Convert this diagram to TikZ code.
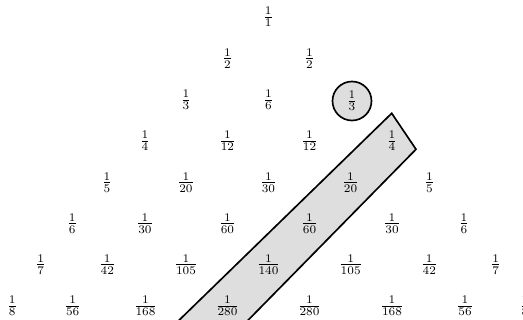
\documentclass[tikz,border=0pt]{standalone}
\begin{document}
\begin{tikzpicture}[x=0.6pt,y=-0.6pt,
  frac/.style={inner sep=1pt},
  circled/.style={frac,circle,draw,line width=1pt,fill=black!13,minimum size=23.4pt},
  stripe/.style={draw,line width=1pt,fill=black!13}]
\useasboundingbox (0,0) rectangle (523,320);
\clip (0,0) rectangle (523,320);
% diagonal strip (behind the numbers)
\coordinate (sTL) at (391.7,113.3);
\coordinate (sTR) at (416,149.3);
\coordinate (sBR) at (209,360);
\coordinate (sBL) at (138.2,360);
\draw[stripe] (sTL) -- (sTR) -- (sBR) -- (sBL) -- cycle;
% row 1
\node[frac] (r1a) at (268.3,17) {$\frac{1}{1}$};
% row 2
\node[frac] (r2a) at (227.5,58.5) {$\frac{1}{2}$};
\node[frac] (r2b) at (309.5,58.5) {$\frac{1}{2}$};
% row 3
\node[frac] (r3a) at (186,100) {$\frac{1}{3}$};
\node[frac] (r3b) at (268.5,100) {$\frac{1}{6}$};
\node[circled] (r3c) at (352,101) {$\frac{1}{3}$};
% row 4
\node[frac] (r4a) at (145,141) {$\frac{1}{4}$};
\node[frac] (r4b) at (227.5,141) {$\frac{1}{12}$};
\node[frac] (r4c) at (309.5,141) {$\frac{1}{12}$};
\node[frac] (r4d) at (392,141) {$\frac{1}{4}$};
% row 5
\node[frac] (r5a) at (107,182.5) {$\frac{1}{5}$};
\node[frac] (r5b) at (186,182.5) {$\frac{1}{20}$};
\node[frac] (r5c) at (268.5,182.5) {$\frac{1}{30}$};
\node[frac] (r5d) at (350.5,182.5) {$\frac{1}{20}$};
\node[frac] (r5e) at (429.5,182.5) {$\frac{1}{5}$};
% row 6
\node[frac] (r6a) at (72.3,223.5) {$\frac{1}{6}$};
\node[frac] (r6b) at (145,223.5) {$\frac{1}{30}$};
\node[frac] (r6c) at (227.5,223.5) {$\frac{1}{60}$};
\node[frac] (r6d) at (309.5,223.5) {$\frac{1}{60}$};
\node[frac] (r6e) at (392,223.5) {$\frac{1}{30}$};
\node[frac] (r6f) at (464,223.5) {$\frac{1}{6}$};
% row 7
\node[frac] (r7a) at (40.7,264.5) {$\frac{1}{7}$};
\node[frac] (r7b) at (107.3,264.5) {$\frac{1}{42}$};
\node[frac] (r7c) at (186,264.5) {$\frac{1}{105}$};
\node[frac] (r7d) at (268.5,264.5) {$\frac{1}{140}$};
\node[frac] (r7e) at (350.7,264.5) {$\frac{1}{105}$};
\node[frac] (r7f) at (429.3,264.5) {$\frac{1}{42}$};
\node[frac] (r7g) at (495.7,264.5) {$\frac{1}{7}$};
% row 8
\node[frac] (r8a) at (12.3,306) {$\frac{1}{8}$};
\node[frac] (r8b) at (72.7,306) {$\frac{1}{56}$};
\node[frac] (r8c) at (145.5,306) {$\frac{1}{168}$};
\node[frac] (r8d) at (227.5,306) {$\frac{1}{280}$};
\node[frac] (r8e) at (309.5,306) {$\frac{1}{280}$};
\node[frac] (r8f) at (392,306) {$\frac{1}{168}$};
\node[frac] (r8g) at (465,306) {$\frac{1}{56}$};
\node[frac] (r8h) at (525,306) {$\frac{1}{8}$};
\end{tikzpicture}
\end{document}
